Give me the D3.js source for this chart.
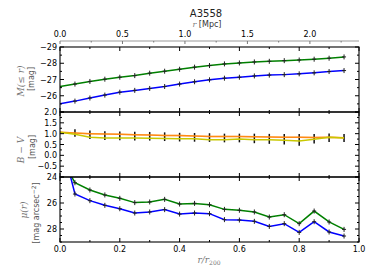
<!DOCTYPE html>
<html>
<head>
<meta charset="utf-8">
<script src="https://cdn.jsdelivr.net/npm/d3@7"></script>
<style>
  body { margin: 0; background: #fff; }
  svg { display: block; font-family: "DejaVu Sans", sans-serif; }
  .math { font-family: "DejaVu Serif", serif; font-style: italic; }
</style>
</head>
<body>
<svg width="374" height="280"></svg>
<script>
// r / r200 sampling (first point at the centre has no marker)
var radius = [0, 0.05, 0.1, 0.15, 0.2, 0.25, 0.3, 0.35, 0.4, 0.45, 0.5,
  0.55, 0.6, 0.65, 0.7, 0.75, 0.8, 0.85, 0.9, 0.95];

// cumulative magnitude M(<=r)
var magGreen = [-26.57, -26.72, -26.88, -27.02, -27.14, -27.24, -27.39, -27.51, -27.63, -27.76,
  -27.86, -27.96, -28.02, -28.08, -28.12, -28.16, -28.2, -28.25, -28.31, -28.39];
var magBlue = [-25.51, -25.67, -25.86, -26.04, -26.22, -26.33, -26.45, -26.57, -26.72, -26.86,
  -26.98, -27.08, -27.14, -27.22, -27.27, -27.3, -27.35, -27.41, -27.49, -27.55];

// colour B - V
var bvOrange = [1.06, 1.03, 1.0, 0.98, 0.97, 0.95, 0.94, 0.92, 0.91, 0.89,
  0.87, 0.87, 0.87, 0.86, 0.85, 0.84, 0.83, 0.82, 0.83, 0.81];
var bvYellow = [1.06, 0.97, 0.84, 0.8, 0.8, 0.8, 0.79, 0.78, 0.76, 0.77,
  0.72, 0.72, 0.75, 0.72, 0.72, 0.7, 0.66, 0.74, 0.83, 0.8];
var bvMid = [null, 1.03, 0.95, 0.91, 0.9, 0.89, 0.88, 0.86, 0.84, 0.83,
  0.82, 0.8, 0.8, 0.78, 0.76, 0.74, 0.71, 0.77, 0.81, 0.8];
var bvErr = [null, 0.17, 0.2, 0.2, 0.2, 0.2, 0.2, 0.2, 0.2, 0.2,
  0.2, 0.2, 0.2, 0.22, 0.23, 0.24, 0.27, 0.22, 0.2, 0.19];

// surface brightness mu(r)
var muGreen = [22.4, 24.44, 25.0, 25.38, 25.64, 25.97, 25.92, 25.72, 26.08, 26.03,
  26.13, 26.49, 26.56, 26.69, 27.08, 26.9, 27.59, 26.62, 27.46, 28.03];
var muBlue = [20.8, 25.31, 25.82, 26.18, 26.44, 26.77, 26.69, 26.51, 26.85, 26.77,
  26.82, 27.28, 27.31, 27.41, 27.8, 27.59, 28.26, 27.44, 28.23, 28.54];

var xTicks = [0, 0.2, 0.4, 0.6, 0.8, 1.0];
var mpcTicks = [0, 0.5, 1.0, 1.5, 2.0];
var magTicks = [-29, -28, -27, -26];
var bvTicks = [2.0, 1.5, 1.0, 0.5, 0.0, -0.5];
var muTicks = [24, 26, 28];

var svg = d3.select("svg");
var left = 60, right = 359;

var x = d3.scaleLinear().domain([0, 1]).range([left, right]);
var xMpc = d3.scaleLinear().domain([0, 2.393]).range([left, right]);

var panels = [
  { y: d3.scaleLinear().domain([-29, -25]).range([47, 112]), ticks: magTicks, minor: 0.5,
    fmt: function(d) { return d3.format("d")(d).replace("-", "\u2212"); } },
  { y: d3.scaleLinear().domain([2, -1]).range([112, 177]), ticks: bvTicks, minor: 0.25,
    fmt: d3.format(".1f") },
  { y: d3.scaleLinear().domain([24, 29]).range([177, 242]), ticks: muTicks, minor: 0.5,
    fmt: d3.format("d") }
];

svg.append("defs").selectAll("clipPath")
  .data(panels).enter().append("clipPath")
  .attr("id", function(d, i) { return "clip" + i; })
  .append("rect")
  .attr("x", left).attr("width", right - left)
  .attr("y", function(d) { return d.y.range()[0]; })
  .attr("height", function(d) { return d.y.range()[1] - d.y.range()[0]; });

function pts(vals) {
  return radius.map(function(r, i) { return [r, vals[i]]; });
}

function drawLine(p, idx, vals, color, w) {
  var line = d3.line()
    .x(function(d) { return x(d[0]); })
    .y(function(d) { return p.y(d[1]); });
  svg.append("path")
    .attr("clip-path", "url(#clip" + idx + ")")
    .attr("d", line(pts(vals)))
    .attr("fill", "none")
    .attr("stroke", color)
    .attr("stroke-width", w);
}

function drawPlus(p, idx, vals) {
  var g = svg.append("g").attr("clip-path", "url(#clip" + idx + ")")
    .attr("stroke", "#222").attr("stroke-width", 1);
  pts(vals).slice(1).forEach(function(d) {
    var cx = x(d[0]), cy = p.y(d[1]);
    g.append("line").attr("x1", cx).attr("x2", cx).attr("y1", cy - 2.5).attr("y2", cy + 2.5);
    g.append("line").attr("x1", cx - 2).attr("x2", cx + 2).attr("y1", cy).attr("y2", cy);
  });
}

// panel 1
drawLine(panels[0], 0, magGreen, "#008000", 1.5);
drawLine(panels[0], 0, magBlue, "#0000ff", 1.5);
drawPlus(panels[0], 0, magGreen);
drawPlus(panels[0], 0, magBlue);

// panel 2
var band = d3.area()
  .x(function(d) { return x(d[0]); })
  .y0(function(d) { return panels[1].y(d[1] + 0.035); })
  .y1(function(d) { return panels[1].y(d[1] - 0.035); });
svg.append("path")
  .attr("clip-path", "url(#clip1)")
  .attr("d", band(pts(bvOrange)))
  .attr("fill", "#ffc68a").attr("opacity", 0.7);
svg.append("g").attr("clip-path", "url(#clip1)")
  .selectAll("line").data(radius.slice(1)).enter().append("line")
  .attr("x1", function(d) { return x(d); })
  .attr("x2", function(d) { return x(d); })
  .attr("y1", function(d, i) { return panels[1].y(bvMid[i + 1] + bvErr[i + 1]); })
  .attr("y2", function(d, i) { return panels[1].y(bvMid[i + 1] - bvErr[i + 1]); })
  .attr("stroke", "#111").attr("stroke-width", 1.5);
drawLine(panels[1], 1, bvOrange, "#ff8a14", 1.5);
drawLine(panels[1], 1, bvYellow, "#c8c800", 1.5);

// panel 3
drawLine(panels[2], 2, muGreen, "#008000", 1.5);
drawLine(panels[2], 2, muBlue, "#0000ff", 1.5);
drawPlus(panels[2], 2, muGreen);
drawPlus(panels[2], 2, muBlue);

// frames and ticks
var xMinor = d3.range(0, 1.001, 0.1);
panels.forEach(function(p, i) {
  var y0 = p.y.range()[0], y1 = p.y.range()[1];
  var g = svg.append("g").attr("stroke", "#000");
  // x ticks on top and bottom of each panel, pointing in
  xMinor.forEach(function(v) {
    var len = (Math.round(v * 10) % 2 === 0) ? 4 : 2;
    g.append("line").attr("x1", x(v)).attr("x2", x(v)).attr("y1", y0).attr("y2", y0 + len);
    g.append("line").attr("x1", x(v)).attr("x2", x(v)).attr("y1", y1).attr("y2", y1 - len);
  });
  // y ticks left and right
  var dom = p.y.domain();
  var lo = Math.min(dom[0], dom[1]), hi = Math.max(dom[0], dom[1]);
  var step = Math.abs(p.ticks[1] - p.ticks[0]);
  d3.range(lo, hi + 0.001, p.minor).forEach(function(v) {
    var r = Math.abs(v - p.ticks[0]) / step;
    var major = Math.abs(r - Math.round(r)) < 1e-6;
    var len = major ? 4 : 2;
    g.append("line").attr("x1", left).attr("x2", left + len).attr("y1", p.y(v)).attr("y2", p.y(v));
    g.append("line").attr("x1", right).attr("x2", right - len).attr("y1", p.y(v)).attr("y2", p.y(v));
  });
  svg.append("rect")
    .attr("x", left).attr("y", y0)
    .attr("width", right - left).attr("height", y1 - y0)
    .attr("fill", "none").attr("stroke", "#000").attr("stroke-width", 1.1);
  // tick labels
  svg.append("g").selectAll("text").data(p.ticks).enter().append("text")
    .attr("x", left - 3)
    .attr("y", function(d) { return p.y(d) + 3; })
    .attr("text-anchor", "end")
    .attr("font-size", 8)
    .text(p.fmt);
});

// bottom axis labels
svg.append("g").selectAll("text").data(xTicks).enter().append("text")
  .attr("x", function(d) { return x(d); })
  .attr("y", 252)
  .attr("text-anchor", "middle")
  .attr("font-size", 8)
  .text(d3.format(".1f"));

// top axis in Mpc
var topAxis = svg.append("g");
topAxis.append("line").attr("x1", left).attr("x2", right).attr("y1", 41).attr("y2", 41)
  .attr("stroke", "#999").attr("stroke-width", 1.2);
d3.range(0, 2.393, 0.25).forEach(function(v) {
  var len = (Math.round(v * 4) % 2 === 0) ? 3 : 1.5;
  topAxis.append("line").attr("x1", xMpc(v)).attr("x2", xMpc(v)).attr("y1", 41).attr("y2", 41 + len)
    .attr("stroke", "#777");
});
topAxis.selectAll("text").data(mpcTicks).enter().append("text")
  .attr("x", function(d) { return xMpc(d); })
  .attr("y", 37)
  .attr("text-anchor", "middle")
  .attr("font-size", 8)
  .text(d3.format(".1f"));

// titles
svg.append("text").attr("x", 206).attr("y", 17).attr("text-anchor", "middle")
  .attr("font-size", 10).attr("font-weight", "normal").attr("fill", "#222").text("A3558");
var rl = svg.append("text").attr("x", 207).attr("y", 27).attr("text-anchor", "middle")
  .attr("font-size", 8).attr("fill", "#333");
rl.append("tspan").attr("class", "math").attr("fill", "#777").text("r");
rl.append("tspan").text("  [Mpc]");

var xl = svg.append("text").attr("x", 209).attr("y", 263).attr("text-anchor", "middle")
  .attr("font-size", 9).attr("fill", "#777").attr("class", "math");
xl.append("tspan").text("r/r");
xl.append("tspan").attr("font-size", 6).attr("dy", 2).attr("font-style", "normal").text("200");

// y labels
function ylab(cx, cy, build, size) {
  var t = svg.append("text")
    .attr("transform", "translate(" + cx + "," + cy + ") rotate(-90)")
    .attr("text-anchor", "middle").attr("font-size", size || 8).attr("fill", "#777");
  build(t);
}
ylab(24, 81, function(t) {
  t.append("tspan").attr("class", "math").text("M");
  t.append("tspan").attr("class", "math").attr("font-style", "normal").text("(\u2264 ");
  t.append("tspan").attr("class", "math").text("r");
  t.append("tspan").attr("class", "math").attr("font-style", "normal").text(")");
}, 9);
ylab(34, 79, function(t) { t.attr("fill", "#555").text("[mag]"); });
ylab(24, 150, function(t) {
  t.append("tspan").attr("class", "math").text("B \u2212 V");
}, 9);
ylab(35, 147, function(t) { t.attr("fill", "#555").text("[mag]"); });
ylab(27, 210, function(t) {
  t.append("tspan").attr("class", "math").text("\u03bc");
  t.append("tspan").attr("class", "math").attr("font-style", "normal").text("(");
  t.append("tspan").attr("class", "math").text("r");
  t.append("tspan").attr("class", "math").attr("font-style", "normal").text(")");
}, 9);
ylab(39, 213, function(t) {
  t.attr("fill", "#555");
  t.append("tspan").text("[mag arcsec");
  t.append("tspan").attr("font-size", 6).attr("dy", -3).text("\u22122");
  t.append("tspan").attr("dy", 3).text("]");
});
</script>
</body>
</html>
